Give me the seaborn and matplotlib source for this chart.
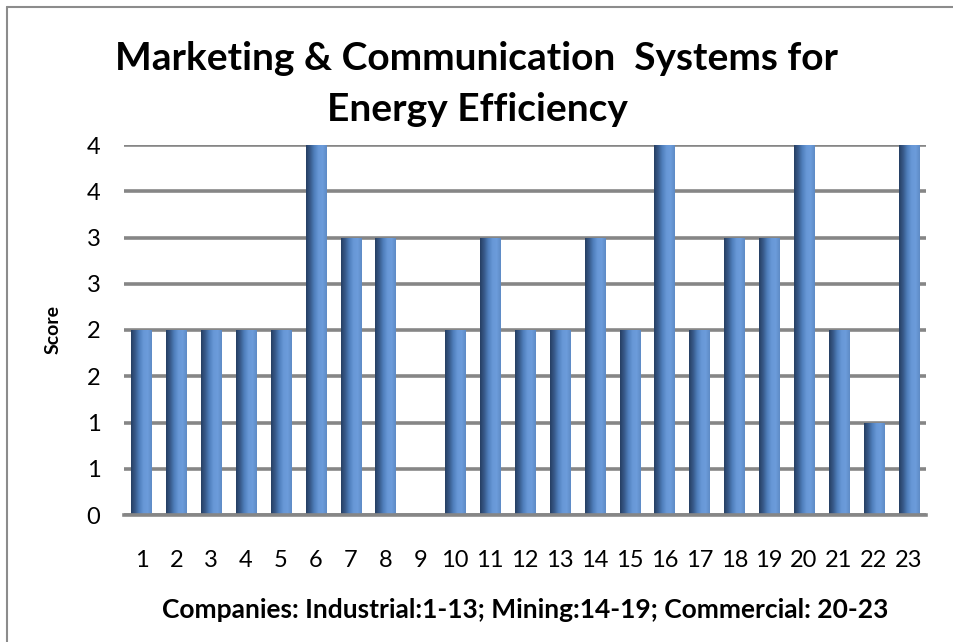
import numpy as np
import pandas as pd
import matplotlib
matplotlib.use("Agg")
import matplotlib.pyplot as plt
from matplotlib.colors import LinearSegmentedColormap
from matplotlib.lines import Line2D
import seaborn as sns

# ---------- data ----------
companies = [str(i) for i in range(1, 24)]
scores = [2, 2, 2, 2, 2, 4, 3, 3, 0, 2, 3, 2, 2, 3, 2, 4, 2, 3, 3, 4, 2, 1, 4]
y_ticks = [0, 0.5, 1, 1.5, 2, 2.5, 3, 3.5, 4]
y_labels = ["0", "1", "1", "2", "2", "3", "3", "4", "4"]  # excel-style rounding

title = "Marketing & Communication  Systems for\nEnergy Efficiency"
x_title = "Companies: Industrial:1-13; Mining:14-19; Commercial: 20-23"
y_title = "Score"

df = pd.DataFrame({"company": companies, "score": scores})

sns.set_theme(style="white")
plt.rcParams["font.family"] = ["Lato", "DejaVu Sans"]
plt.rcParams["text.color"] = "black"
plt.rcParams["axes.labelcolor"] = "black"

fig = plt.figure(figsize=(9.54, 6.42), dpi=100)
ax = fig.add_axes([124 / 954, 1 - 515 / 642, 802 / 954, 370 / 642])

sns.barplot(data=df, x="company", y="score", color="#4f81bd", width=0.575,
            ax=ax, zorder=3, linewidth=0)

# cylinder-ish excel gradient on each bar
grad = LinearSegmentedColormap.from_list(
    "xlbar", ["#263f63", "#385a8a", "#5080bd", "#6797d6", "#6c9cdb", "#5e8bc6"])
g = np.linspace(0, 1, 64).reshape(1, -1)
for p in ax.patches:
    h = p.get_height()
    if h <= 0:
        continue
    x0 = p.get_x()
    w = p.get_width()
    im = ax.imshow(g, cmap=grad, aspect="auto", extent=(x0, x0 + w, 0, h),
                   zorder=4, interpolation="bilinear")
    im.set_clip_path(p)

ax.set_xlim(-0.5, len(companies) - 0.5)
ax.set_ylim(0, 4)
ax.set_yticks(y_ticks)
ax.set_yticklabels(y_labels)
ax.yaxis.grid(True, color="#868686", linewidth=2.6, zorder=1)
ax.xaxis.grid(False)
for s in ["top", "right", "left"]:
    ax.spines[s].set_visible(False)
ax.spines["bottom"].set_color("#868686")
ax.spines["bottom"].set_linewidth(2.6)
ax.spines["bottom"].set_zorder(5)
ax.tick_params(axis="both", length=0, labelsize=17, colors="black")
ax.tick_params(axis="x", pad=25)
ax.tick_params(axis="y", pad=17)

ax.set_xlabel(x_title, fontsize=19, fontweight="bold", labelpad=20)
ax.set_ylabel(y_title, fontsize=14, fontweight="bold", labelpad=18)

fig.text(0.5, 1 - 84 / 642, title, ha="center", va="center",
         fontsize=28, fontweight="bold", linespacing=1.55)

# outer chart border (only top/left visible in the crop)
fig.add_artist(Line2D([7 / 954, 1], [1 - 7 / 642, 1 - 7 / 642],
                      transform=fig.transFigure, color="#8c8c8c", lw=1.5))
fig.add_artist(Line2D([7 / 954, 7 / 954], [0, 1 - 7 / 642],
                      transform=fig.transFigure, color="#8c8c8c", lw=1.5))

fig.savefig("out.png", dpi=100, facecolor="white")
